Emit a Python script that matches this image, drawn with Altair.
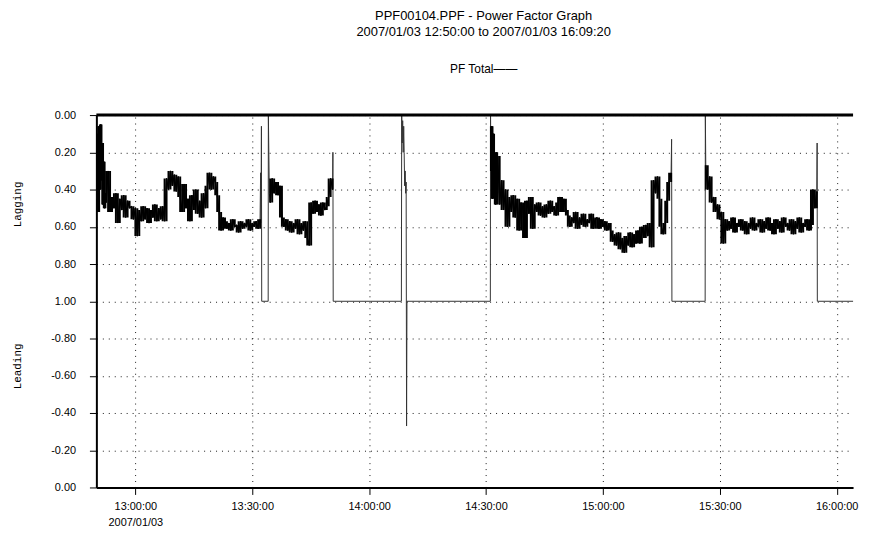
import altair as alt
import pandas as pd

# ---- data (time = minutes after midnight, pf = position on the 0..2 power-factor scale:
#      0..1 lagging 0.00..1.00, 1..2 leading -0.80..0.00) ----
STEP = 0.5
BURST_STEP = 0.2

a_burst_t0 = 770.11
a_burst = [0.45, 0.10, 0.52, 0.06, 0.40, 0.05, 0.35, 0.15, 0.48, 0.25, 0.50, 0.42]

a_t0 = 772.51
a_vals = [0.47, 0.30, 0.52, 0.44, 0.50, 0.42, 0.58, 0.45, 0.51, 0.43, 0.55, 0.46, 0.50,
          0.49, 0.56, 0.50, 0.65, 0.51, 0.57, 0.49, 0.56, 0.50, 0.58, 0.51, 0.55, 0.48, 0.57,
          0.50, 0.56, 0.49, 0.57,
          0.34, 0.40, 0.30, 0.38, 0.32, 0.41, 0.33,
          0.44, 0.52, 0.37, 0.50, 0.45, 0.57, 0.43, 0.51, 0.40, 0.53, 0.46, 0.55, 0.42, 0.50,
          0.38, 0.31, 0.40, 0.33, 0.36, 0.43,
          0.52, 0.62, 0.55,
          0.57, 0.61, 0.58, 0.62, 0.56, 0.60, 0.59, 0.63, 0.57, 0.61, 0.58, 0.60, 0.56, 0.62,
          0.58, 0.60, 0.57, 0.61, 0.56]

jump1_t = [812.15, 812.25, 812.36, 812.43, 814.09, 814.14, 814.39]
jump1_v = [0.31, 0.58, 0.06, 1.0, 1.0, 0.0, 0.42]

b_t0 = 814.62
b_vals = [0.47, 0.34, 0.42, 0.36, 0.43, 0.38,
          0.55, 0.60, 0.56, 0.62, 0.57, 0.63, 0.58, 0.61, 0.56, 0.64, 0.58, 0.62, 0.57, 0.66,
          0.70,
          0.47, 0.53, 0.46, 0.52, 0.48, 0.54, 0.47, 0.51, 0.49,
          0.44, 0.34, 0.40]

jump2_t = [830.70, 830.78, 848.28, 848.36, 848.48, 848.61, 848.74, 848.87, 848.99,
           849.12, 849.25, 849.38, 849.50, 849.61, 849.71, 871.11, 871.16]
jump2_v = [0.20, 1.0, 1.0, 0.0, 0.15, 0.03, 0.20, 0.06, 0.20,
           0.38, 0.30, 0.42, 0.36, 1.67, 1.0, 1.0, 0.0]

c_burst_t0 = 871.26
c_burst = [0.30, 0.06, 0.45, 0.10, 0.38, 0.25, 0.48, 0.20, 0.42]

c_t0 = 873.0
c_vals = [0.22, 0.48, 0.35, 0.51, 0.40,
          0.60, 0.44, 0.52, 0.43, 0.55, 0.45, 0.62, 0.47, 0.51, 0.66, 0.46, 0.53, 0.44, 0.61,
          0.48, 0.52,
          0.47, 0.54, 0.49, 0.55, 0.48, 0.53, 0.46, 0.52, 0.49, 0.54, 0.47, 0.44, 0.52, 0.45,
          0.51,
          0.54, 0.60, 0.55, 0.58, 0.52, 0.61, 0.55, 0.59, 0.53, 0.60, 0.56, 0.58, 0.53, 0.61,
          0.56,
          0.55, 0.61, 0.56, 0.60, 0.57, 0.62, 0.58,
          0.62, 0.68, 0.64, 0.70, 0.63, 0.72, 0.66, 0.74, 0.65, 0.70, 0.63, 0.71, 0.64, 0.69,
          0.62, 0.69, 0.60, 0.66, 0.59, 0.65, 0.58, 0.71,
          0.35, 0.42, 0.33, 0.45,
          0.60, 0.64, 0.58,
          0.46, 0.36, 0.31]

jump3_t = [917.63, 917.71, 926.24, 926.29]
jump3_v = [0.13, 1.0, 1.0, 0.0]

d_t0 = 926.40
d_vals = [0.27, 0.40, 0.33, 0.47, 0.44, 0.52, 0.48,
          0.56, 0.52, 0.69,
          0.56, 0.62, 0.57, 0.61, 0.55, 0.63, 0.58, 0.60, 0.56, 0.62,
          0.57, 0.64, 0.58, 0.61, 0.55, 0.62, 0.58, 0.60, 0.56, 0.63,
          0.57, 0.61, 0.55, 0.62, 0.58, 0.64, 0.56, 0.61, 0.57, 0.63,
          0.55, 0.60, 0.58, 0.62, 0.56, 0.64, 0.57, 0.61, 0.55, 0.63,
          0.58, 0.60, 0.56, 0.62, 0.59,
          0.40, 0.50, 0.41]

jump4_t = [954.98, 955.03, 969.33]
jump4_v = [0.15, 1.0, 1.0]

x_ticks = [780, 810, 840, 870, 900, 930, 960]
y_ticks = [0.0, 0.2, 0.4, 0.6, 0.8, 1.0, 1.2, 1.4, 1.6, 1.8, 2.0]

title_lines = ["PPF00104.PPF - Power Factor Graph",
               "2007/01/03 12:50:00 to 2007/01/03 16:09:20"]
legend_text = "PF Total\u2014\u2014"

# ---- build the ordered series ----
times, vals, segs = [], [], []


def add_regular(t0, step, values, seg):
    for i, v in enumerate(values):
        times.append(t0 + i * step)
        vals.append(v)
        segs.append(seg)


def add_points(ts, vs):
    times.extend(ts)
    vals.extend(vs)
    segs.extend([""] * len(ts))


add_regular(a_burst_t0, BURST_STEP, a_burst, "a")
add_regular(a_t0, STEP, a_vals, "a")
add_points(jump1_t, jump1_v)
add_regular(b_t0, STEP, b_vals, "b")
add_points(jump2_t, jump2_v)
add_regular(c_burst_t0, BURST_STEP, c_burst, "c")
add_regular(c_t0, STEP, c_vals, "c")
add_points(jump3_t, jump3_v)
add_regular(d_t0, STEP, d_vals, "d")
add_points(jump4_t, jump4_v)

df = pd.DataFrame({"t": times, "pf": vals, "seg": segs, "seq": list(range(len(times)))})
noise_df = df[df["seg"] != ""].reset_index(drop=True)

FONT = "Liberation Sans"

x_enc = alt.X(
    "t:Q",
    scale=alt.Scale(domain=[770, 964.2], nice=False, zero=False),
    axis=alt.Axis(
        values=x_ticks, title=None, grid=True, labelOverlap=False, tickCount=20,
        labelExpr="datum.value == 780 ? ['13:00:00', '2007/01/03'] : "
                  "floor(datum.value / 60) + ':' + (datum.value % 60 == 0 ? '00' : '30') + ':00'",
        labelLineHeight=16,
    ),
)
y_enc = alt.Y(
    "pf:Q",
    scale=alt.Scale(domain=[0, 2], reverse=True, nice=False, zero=False),
    axis=alt.Axis(
        values=y_ticks, title=None, grid=True, labelOverlap=False, tickCount=20,
        labelExpr="datum.value > 1.001 ? (datum.value > 1.999 ? '0.00' : '-' + format(2 - datum.value, '.2f'))"
                  " : format(datum.value, '.2f')",
    ),
)

line = alt.Chart(df).mark_line(
    color="#333333", strokeWidth=1, strokeJoin="bevel", clip=True
).encode(x=x_enc, y=y_enc, order="seq:Q")

# dense noisy stretches: a vertical stroke spanning each sample and its neighbours
band = alt.Chart(noise_df).transform_window(
    lo="min(pf)", hi="max(pf)", frame=[-1, 1], groupby=["seg"], sort=[alt.SortField("seq")]
).mark_rule(color="black", strokeWidth=2.0, clip=True).encode(
    x="t:Q", y="lo:Q", y2="hi:Q"
)

noise = alt.Chart(noise_df).mark_line(
    color="black", strokeWidth=1.2, strokeJoin="bevel", clip=True
).encode(x="t:Q", y="pf:Q", detail="seg:N", order="seq:Q")

one = pd.DataFrame({"a": [0]})
top_border = alt.Chart(one).mark_rule(color="black", strokeWidth=3).encode(y=alt.datum(0))

lagging = alt.Chart(one).mark_text(
    angle=270, font="Liberation Mono", fontSize=11, color="black", align="center", baseline="middle"
).encode(x=alt.value(-79), y=alt.datum(0.48), text=alt.value("Lagging"))

leading = alt.Chart(one).mark_text(
    angle=270, font="Liberation Mono", fontSize=11, color="black", align="center", baseline="middle"
).encode(x=alt.value(-79), y=alt.datum(1.35), text=alt.value("Leading"))

chart = alt.layer(line, band, noise, top_border, lagging, leading).properties(
    width=762,
    height=375,
    padding={"left": 3, "top": 0, "right": 4, "bottom": 0},
    title=alt.TitleParams(
        text=title_lines,
        subtitle=[legend_text],
        font=FONT, fontSize=13, fontWeight="normal", color="black", lineHeight=16,
        subtitleFont=FONT, subtitleFontSize=12, subtitleColor="black", subtitleLineHeight=16,
        subtitlePadding=26, offset=34, dx=9, anchor="middle",
    ),
).configure_view(stroke=None).configure_axis(
    labelFont=FONT, labelFontSize=11, labelColor="black",
    domainColor="black", domainWidth=2, tickColor="black", tickSize=7, tickWidth=1,
    gridColor="black", gridDash=[1, 5], gridWidth=1, gridOpacity=0.9,
).configure_axisY(labelPadding=14).configure_axisX(labelPadding=6)

chart.save("out.html", embed_options={"renderer": "svg", "actions": False})
